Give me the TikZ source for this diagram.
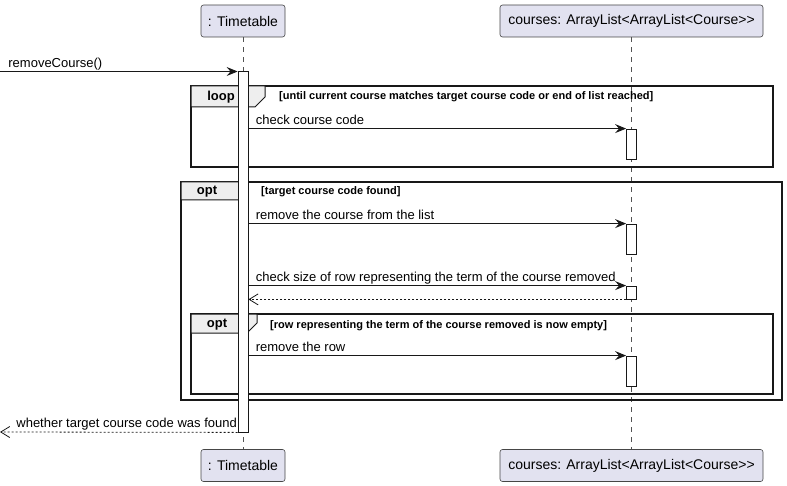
\documentclass[tikz,border=0pt]{standalone}
\usepackage{fontspec}
\setmainfont{Liberation Sans}
\usetikzlibrary{positioning, arrows.meta}

\definecolor{partfill}{HTML}{E2E2F0}
\definecolor{partline}{HTML}{181818}
\definecolor{tabfill}{HTML}{EEEEEE}

\begin{document}
\begin{tikzpicture}[
  x=1bp, y=-1bp,
  part/.style={rectangle, draw=partline!80, fill=partfill, rounded corners=2.5bp, inner sep=0pt, minimum height=32bp, font=\fontsize{14bp}{16bp}\selectfont, line width=0.6bp},
  act/.style={rectangle, draw=partline, fill=white, inner sep=0pt, minimum width=10bp, line width=0.8bp},
  life/.style={draw=partline!75, dash pattern=on 5bp off 5bp, line width=0.6bp},
  msg/.style={-{Stealth[length=11bp, width=9bp, inset=4bp]}, line width=0.8bp, draw=partline},
  ret/.style={-{Straight Barb[length=9bp, width=11bp]}, line width=0.8bp, draw=partline, dash pattern=on 2bp off 2bp},
  lbl/.style={font=\fontsize{13bp}{15bp}\selectfont, inner sep=0pt},
  frame/.style={draw=partline, line width=1.5bp},
  tab/.style={draw=partline, fill=tabfill, line width=1bp},
  tablbl/.style={font=\fontsize{13bp}{15bp}\selectfont\bfseries, inner sep=0pt},
  guard/.style={font=\fontsize{11bp}{13bp}\selectfont\bfseries, inner sep=0pt, anchor=base west}
]
\useasboundingbox (0,0) rectangle (787,486);

% participants, top and bottom
\node[part, minimum width=84bp] (tTop) at (243,21) {: Timetable};
\node[part, minimum width=263bp] (cTop) at (631.5,21) {courses: ArrayList<ArrayList<Course>{}>};
\node[part, minimum width=84bp] (tBot) at (243,465.5) {: Timetable};
\node[part, minimum width=263bp] (cBot) at (631.5,465.5) {courses: ArrayList<ArrayList<Course>{}>};

% lifelines
\draw[life] (tTop) -- (tBot);
\draw[life] (cTop) -- (cBot);

% loop frame
\draw[frame] (191,86) rectangle (773,167);
\draw[tab] (191,86) -- (265,86) -- (265,97) -- (255,107) -- (191,107) -- cycle;
\node[tablbl] (loopLbl) at (221,97.5) {loop};
\node[guard] (loopGuard) at (279,100) {[until current course matches target course code or end of list reached]};

% outer opt frame
\draw[frame] (181,182) rectangle (782,400);
\draw[tab] (181,182) -- (247,182) -- (247,190) -- (238,200) -- (181,200) -- cycle;
\node[tablbl] (optLbl) at (207,192) {opt};
\node[guard] (optGuard) at (261,195) {[target course code found]};

% inner opt frame
\draw[frame] (191,314) rectangle (773,394);
\draw[tab] (191,314) -- (257,314) -- (257,323) -- (247,333) -- (191,333) -- cycle;
\node[tablbl] (innerLbl) at (217,324.5) {opt};
\node[guard] (innerGuard) at (270,328) {[row representing the term of the course removed is now empty]};

% activations
\node[act, minimum height=361bp] (actT) at (243,251.5) {};
\node[act, minimum height=30bp] (actC1) at (631.5,144) {};
\node[act, minimum height=30bp] (actC2) at (631.5,239) {};
\node[act, minimum height=13bp] (actC3) at (631.5,292.5) {};
\node[act, minimum height=30bp] (actC4) at (631.5,371) {};

\coordinate (callIn) at (0,71.5);
\coordinate (callOut) at (0,432);

% messages
\draw[msg] (callIn) -- (actT.west |- callIn)
  node[lbl, pos=0, anchor=base west, xshift=8bp, yshift=4bp] {removeCourse()};
\draw[msg] (actT.east |- actC1.north) -- (actC1.north west)
  node[lbl, pos=0, anchor=base west, xshift=7bp, yshift=4bp] {check course code};
\draw[msg] (actT.east |- actC2.north) -- (actC2.north west)
  node[lbl, pos=0, anchor=base west, xshift=7bp, yshift=4bp] {remove the course from the list};
\draw[msg] (actT.east |- actC3.north) -- (actC3.north west)
  node[lbl, pos=0, anchor=base west, xshift=7bp, yshift=4bp] {check size of row representing the term of the course removed};
\draw[ret] (actC3.south west) -- (actT.east |- actC3.south);
\draw[msg] (actT.east |- actC4.north) -- (actC4.north west)
  node[lbl, pos=0, anchor=base west, xshift=7bp, yshift=4bp] {remove the row};
\draw[ret] (actT.south west) -- (callOut)
  node[lbl, pos=1, anchor=base west, xshift=16bp, yshift=5bp] {whether target course code was found};
\end{tikzpicture}
\end{document}
